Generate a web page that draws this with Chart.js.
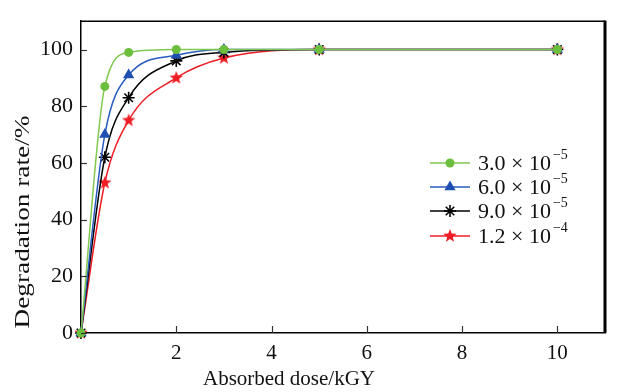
<!DOCTYPE html>
<html>
<head>
<meta charset="utf-8">
<script src="https://cdn.jsdelivr.net/npm/chart.js@4.4.1/dist/chart.umd.min.js"></script>
<style>
  html, body { margin: 0; padding: 0; background: #fff; }
  #wrap { width: 619px; height: 392px; }
</style>
</head>
<body>
<div id="wrap"><canvas id="myChart"></canvas></div>
<script>
// absorbed dose (kGY) and degradation rate (%) per concentration
const doses = [0, 0.5, 1, 2, 3, 5, 10];
const rate30 = [0, 87, 99, 100, 100, 100, 100];
const rate60 = [0, 70, 91, 98, 100, 100, 100];
const rate90 = [0, 62, 83, 96, 99, 100, 100];
const rate120 = [0, 53, 75, 90, 97, 100, 100];
const seriesBase = ['3.0 × 10', '6.0 × 10', '9.0 × 10', '1.2 × 10'];
const seriesExp = ['−5', '−5', '−5', '−4'];
const xTicks = [2, 4, 6, 8, 10];
const yTicks = [0, 20, 40, 60, 80, 100];

const FONT = '"Liberation Serif", "Times New Roman", serif';

// filled five point star for the red series
function makeStar(r, color) {
  const c = document.createElement('canvas');
  c.width = c.height = r * 2 + 2;
  const g = c.getContext('2d');
  g.translate(r + 1, r + 1);
  g.beginPath();
  for (let i = 0; i < 10; i++) {
    const rad = i % 2 === 0 ? r : r * 0.42;
    const a = -Math.PI / 2 + i * Math.PI / 5;
    g.lineTo(Math.cos(a) * rad, Math.sin(a) * rad);
  }
  g.closePath();
  g.fillStyle = color;
  g.fill();
  return c;
}
const redStar = makeStar(7, '#ee1c24');

function pts(vals) {
  return doses.map((d, i) => ({ x: d, y: vals[i] }));
}

const datasets = [
  { data: pts(rate30), borderColor: '#80c850', backgroundColor: '#6cbf3c', pointStyle: 'circle', pointRadius: 4.5, pointBorderWidth: 0 },
  { data: pts(rate60), borderColor: '#2a5cbf', backgroundColor: '#1f4fb0', pointStyle: 'triangle', pointRadius: 6.5, pointBorderWidth: 0 },
  { data: pts(rate90), borderColor: '#000000', backgroundColor: '#000000', pointStyle: 'star', pointRadius: 6, pointBorderWidth: 1.6, pointBorderColor: '#000' },
  { data: pts(rate120), borderColor: '#ee1c24', backgroundColor: '#ee1c24', pointStyle: redStar, pointRadius: 7, pointBorderWidth: 0 }
].map(ds => Object.assign({ borderWidth: 1.5, cubicInterpolationMode: 'monotone', fill: false, clip: false }, ds));

const decor = {
  id: 'decor',
  afterDraw(chart) {
    const ctx = chart.ctx;
    const a = chart.chartArea;
    const xs = chart.scales.x, ys = chart.scales.y;
    ctx.save();
    ctx.strokeStyle = '#000';
    // top and right frame
    ctx.lineWidth = 1.5;
    ctx.beginPath();
    ctx.moveTo(a.left, a.top);
    ctx.lineTo(a.right, a.top);
    ctx.stroke();
    ctx.lineWidth = 3;
    ctx.beginPath();
    ctx.moveTo(a.right, a.top - 0.75);
    ctx.lineTo(a.right, a.bottom);
    ctx.stroke();
    // inward ticks
    ctx.lineWidth = 1.2;
    ctx.strokeStyle = '#333';
    xTicks.forEach(v => {
      const px = Math.round(xs.getPixelForValue(v)) + 0.5;
      ctx.beginPath();
      ctx.moveTo(px, a.bottom);
      ctx.lineTo(px, a.bottom - 7);
      ctx.stroke();
    });
    yTicks.forEach(v => {
      const py = Math.round(ys.getPixelForValue(v)) + 0.5;
      ctx.beginPath();
      ctx.moveTo(a.left, py);
      ctx.lineTo(a.left + 6, py);
      ctx.stroke();
    });
    // axis titles
    ctx.fillStyle = '#111';
    ctx.font = '21px ' + FONT;
    ctx.textAlign = 'center';
    ctx.textBaseline = 'middle';
    ctx.fillText('Absorbed dose/kGY', 289, 379);
    ctx.save();
    ctx.translate(23, 222);
    ctx.rotate(-Math.PI / 2);
    ctx.scale(1.3, 1);
    ctx.fillText('Degradation rate/%', 0, 0);
    ctx.restore();
    // legend
    const rows = [163, 187, 211, 236];
    chart.data.datasets.forEach((ds, i) => {
      const y = rows[i];
      ctx.strokeStyle = ds.borderColor;
      ctx.lineWidth = 1.5;
      ctx.beginPath();
      ctx.moveTo(430, y);
      ctx.lineTo(470, y);
      ctx.stroke();
      ctx.fillStyle = ds.backgroundColor;
      ctx.strokeStyle = ds.pointBorderColor || ds.backgroundColor;
      if (ds.pointStyle === 'star') {
        ctx.lineWidth = ds.pointBorderWidth;
        Chart.helpers.drawPoint(ctx, { pointStyle: 'star', radius: ds.pointRadius, rotation: 0, borderWidth: ds.pointBorderWidth }, 450, y);
      } else {
        Chart.helpers.drawPoint(ctx, { pointStyle: ds.pointStyle, radius: ds.pointRadius, rotation: 0, borderWidth: 0 }, 450, y);
      }
      ctx.fillStyle = '#111';
      ctx.textAlign = 'left';
      ctx.textBaseline = 'middle';
      ctx.font = '22px ' + FONT;
      ctx.fillText(seriesBase[i], 478, y + 1);
      const w = ctx.measureText(seriesBase[i]).width;
      ctx.font = '14px ' + FONT;
      ctx.fillText(seriesExp[i], 478 + w + 2, y - 8);
    });
    ctx.restore();
  }
};

const ctx = document.getElementById('myChart').getContext('2d');
const myChart = new Chart(ctx, {
  type: 'line',
  data: { datasets: datasets },
  options: {
    responsive: true,
    maintainAspectRatio: false,
    animation: false,
    layout: { padding: { top: 21, right: 14, left: 0, bottom: 0 } },
    plugins: { legend: { display: false }, tooltip: { enabled: false } },
    scales: {
      x: {
        type: 'linear',
        min: 0,
        max: 11,
        afterBuildTicks: s => { s.ticks = xTicks.map(v => ({ value: v })); },
        afterFit: s => { s.height = 59; },
        grid: { drawOnChartArea: false, drawTicks: false },
        border: { color: '#000', width: 1.5 },
        ticks: { color: '#111', font: { family: FONT, size: 21 }, padding: 8, maxRotation: 0 }
      },
      y: {
        min: 0,
        max: 110,
        afterBuildTicks: s => { s.ticks = yTicks.map(v => ({ value: v })); },
        afterFit: s => { s.width = 81; },
        grid: { drawOnChartArea: false, drawTicks: false },
        border: { color: '#000', width: 1.5 },
        ticks: { color: '#111', font: { family: FONT, size: 22 }, padding: 8 }
      }
    }
  },
  plugins: [decor]
});
</script>
</body>
</html>
